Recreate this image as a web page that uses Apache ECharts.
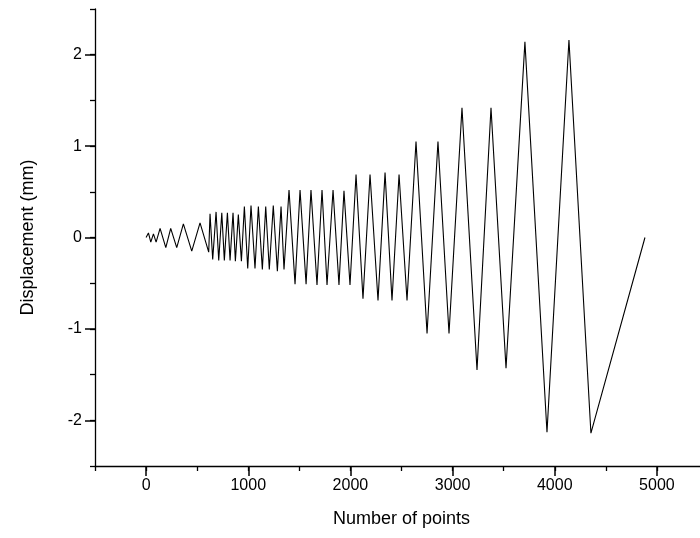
<!DOCTYPE html>
<html>
<head>
<meta charset="utf-8">
<script src="https://cdn.jsdelivr.net/npm/echarts@6/dist/echarts.min.js"></script>
<style>
  html, body { margin: 0; padding: 0; background: #fff; }
  #chart { width: 700px; height: 538px; }
</style>
</head>
<body>
<div id="chart"></div>
<script>
// sample index and displacement (turning points only)
const pointIndex = [0, 23, 46, 72, 98, 137, 193, 241, 300, 365, 447, 528, 613,
  626, 652, 685, 711, 741, 766, 796, 822, 851, 874, 903, 933,
  962, 995, 1027, 1066, 1099, 1138, 1171, 1206, 1245, 1285, 1321, 1350,
  1399, 1458, 1507, 1566, 1614, 1673, 1722, 1771, 1830, 1888, 1937, 1996,
  2055, 2123, 2192, 2270, 2339, 2407, 2476, 2554,
  2642, 2750, 2857, 2965,
  3092, 3239, 3376, 3523,
  3708, 3924, 4139, 4354, 4883]
const displacement = [0, 0.05, -0.05, 0.04, -0.05, 0.1, -0.11, 0.1, -0.11, 0.15, -0.15, 0.16, -0.16,
  0.26, -0.24, 0.28, -0.25, 0.27, -0.25, 0.27, -0.25, 0.27, -0.26, 0.25, -0.26,
  0.34, -0.34, 0.35, -0.34, 0.34, -0.35, 0.34, -0.35, 0.35, -0.37, 0.34, -0.35,
  0.52, -0.51, 0.52, -0.51, 0.52, -0.52, 0.52, -0.52, 0.52, -0.52, 0.51, -0.52,
  0.69, -0.67, 0.69, -0.69, 0.71, -0.69, 0.69, -0.69,
  1.05, -1.05, 1.05, -1.05,
  1.42, -1.45, 1.42, -1.43,
  2.14, -2.13, 2.16, -2.14, 0]

const xMajor = [0, 1000, 2000, 3000, 4000, 5000]
const yMajor = [-2, -1, 0, 1, 2]

const font = 'Liberation Sans, Arial, sans-serif'

var chart = echarts.init(document.getElementById('chart'))
chart.setOption({
  animation: false,
  // the x axis runs past the right edge of the picture
  grid: { left: 95, top: 9, width: 613, height: 457, outerBoundsMode: 'none', containLabel: false },
  xAxis: [
    {
      // every 500: short ticks, labels only on the thousands
      type: 'value', min: -500, max: 5500, interval: 500,
      name: 'Number of points', nameLocation: 'middle', nameGap: 44,
      nameTextStyle: { fontFamily: font, fontSize: 18, color: '#000' },
      axisLine: { onZero: false, lineStyle: { color: '#000', width: 1.3 } },
      axisTick: { show: true, length: 5, lineStyle: { color: '#000', width: 1.3 } },
      axisLabel: {
        margin: 12, fontFamily: font, fontSize: 16, color: '#000',
        formatter: v => (v % 1000 === 0 ? String(v) : '')
      },
      splitLine: { show: false }
    },
    {
      // long ticks on the thousands
      type: 'value', min: -500, max: 5500, position: 'bottom', offset: 0,
      axisLine: { show: false, onZero: false },
      axisTick: { show: true, customValues: xMajor, length: 10, lineStyle: { color: '#000', width: 1.5 } },
      axisLabel: { show: false },
      splitLine: { show: false }
    }
  ],
  yAxis: [
    {
      type: 'value', min: -2.5, max: 2.5, interval: 0.5,
      name: 'Displacement (mm)', nameLocation: 'middle', nameGap: 58,
      nameTextStyle: { fontFamily: font, fontSize: 18, color: '#000' },
      axisLine: { onZero: false, lineStyle: { color: '#000', width: 1.3 } },
      axisTick: { show: true, length: 5, lineStyle: { color: '#000', width: 1.3 } },
      axisLabel: {
        margin: 13, fontFamily: font, fontSize: 16, color: '#000',
        formatter: v => (Number.isInteger(v) ? String(v) : '')
      },
      splitLine: { show: false }
    },
    {
      type: 'value', min: -2.5, max: 2.5, position: 'left', offset: 0,
      axisLine: { show: false, onZero: false },
      axisTick: { show: true, customValues: yMajor, length: 10, lineStyle: { color: '#000', width: 1.5 } },
      axisLabel: { show: false },
      splitLine: { show: false }
    }
  ],
  series: [
    {
      type: 'line',
      xAxisIndex: 0, yAxisIndex: 0,
      data: pointIndex.map((x, i) => [x, displacement[i]]),
      showSymbol: false,
      lineStyle: { color: '#000', width: 1.1 }
    }
  ]
})
</script>
</body>
</html>
